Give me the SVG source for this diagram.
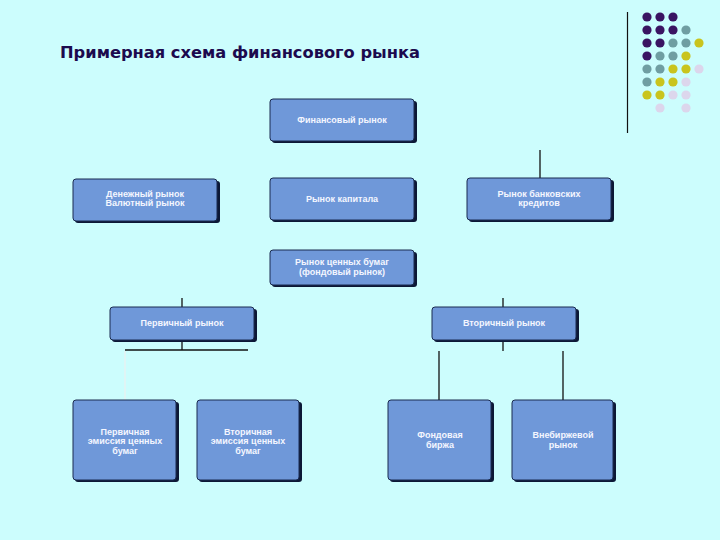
<svg xmlns="http://www.w3.org/2000/svg" width="720" height="540" viewBox="0 0 720 540">
<style>
.bg{fill:#ccfdfd}
.sh{fill:#0c1836}
.bx{fill:#6f98d9;stroke:#1a2a50;stroke-width:1}
.t{font-family:"Liberation Sans",Arial,sans-serif;font-size:9px;font-weight:bold;fill:#f4f6ff;text-anchor:middle}
.title{font-family:"DejaVu Sans",Verdana,sans-serif;font-size:16px;font-weight:bold;fill:#1c0a4e}
.c{stroke:#111;stroke-width:1.3;fill:none}
.cl{stroke:#e6f2f2;stroke-width:1.5;fill:none}
.P{fill:#3a1462}.T{fill:#6f9ea2}.Y{fill:#c9c41e}.L{fill:#dcd6ec}
</style>
<rect class="bg" x="0" y="0" width="720" height="540"/>
<text class="title" x="60" y="58" textLength="360" lengthAdjust="spacingAndGlyphs">Примерная схема финансового рынка</text>
<line x1="627.5" y1="12" x2="627.5" y2="133" stroke="#111" stroke-width="1.2"/>
<g id="dots">
<circle class="P" cx="647" cy="17" r="4.6"/><circle class="P" cx="660" cy="17" r="4.6"/><circle class="P" cx="673" cy="17" r="4.6"/>
<circle class="P" cx="647" cy="30" r="4.6"/><circle class="P" cx="660" cy="30" r="4.6"/><circle class="P" cx="673" cy="30" r="4.6"/><circle class="T" cx="686" cy="30" r="4.6"/>
<circle class="P" cx="647" cy="43" r="4.6"/><circle class="P" cx="660" cy="43" r="4.6"/><circle class="T" cx="673" cy="43" r="4.6"/><circle class="T" cx="686" cy="43" r="4.6"/><circle class="Y" cx="699" cy="43" r="4.6"/>
<circle class="P" cx="647" cy="56" r="4.6"/><circle class="T" cx="660" cy="56" r="4.6"/><circle class="T" cx="673" cy="56" r="4.6"/><circle class="Y" cx="686" cy="56" r="4.6"/>
<circle class="T" cx="647" cy="69" r="4.6"/><circle class="T" cx="660" cy="69" r="4.6"/><circle class="Y" cx="673" cy="69" r="4.6"/><circle class="Y" cx="686" cy="69" r="4.6"/><circle class="L" cx="699" cy="69" r="4.6"/>
<circle class="T" cx="647" cy="82" r="4.6"/><circle class="Y" cx="660" cy="82" r="4.6"/><circle class="Y" cx="673" cy="82" r="4.6"/><circle class="L" cx="686" cy="82" r="4.6"/>
<circle class="Y" cx="647" cy="95" r="4.6"/><circle class="Y" cx="660" cy="95" r="4.6"/><circle class="L" cx="673" cy="95" r="4.6"/><circle class="L" cx="686" cy="95" r="4.6"/>
<circle class="L" cx="660" cy="108" r="4.6"/><circle class="L" cx="686" cy="108" r="4.6"/>
</g>
<g id="connectors">
<line class="c" x1="540" y1="150" x2="540" y2="178"/>
<line class="c" x1="182" y1="298" x2="182" y2="307"/>
<line class="c" x1="182" y1="340" x2="182" y2="350"/>
<line class="c" x1="125" y1="350" x2="248" y2="350"/>
<line class="cl" x1="125" y1="351" x2="125" y2="400"/>
<line class="c" x1="503" y1="298" x2="503" y2="307"/>
<line class="c" x1="503" y1="340" x2="503" y2="351"/>
<line class="c" x1="439" y1="351" x2="439" y2="400"/>
<line class="c" x1="563" y1="351" x2="563" y2="400"/>
</g>
<g id="n_fin">
<rect class="sh" x="272" y="101" width="145" height="42" rx="3"/>
<rect class="bx" x="270" y="99" width="144" height="42" rx="3"/>
<text class="t" x="342" y="123">Финансовый рынок</text>
</g>
<g id="n_money">
<rect class="sh" x="75" y="181" width="145" height="42" rx="3"/>
<rect class="bx" x="73" y="179" width="144" height="42" rx="3"/>
<text class="t" x="145" y="197">Денежный рынок</text>
<text class="t" x="145" y="206">Валютный рынок</text>
</g>
<g id="n_capital">
<rect class="sh" x="272" y="180" width="145" height="42" rx="3"/>
<rect class="bx" x="270" y="178" width="144" height="42" rx="3"/>
<text class="t" x="342" y="202">Рынок капитала</text>
</g>
<g id="n_bank">
<rect class="sh" x="469" y="180" width="145" height="42" rx="3"/>
<rect class="bx" x="467" y="178" width="144" height="42" rx="3"/>
<text class="t" x="539" y="197">Рынок банковских</text>
<text class="t" x="539" y="206">кредитов</text>
</g>
<g id="n_securities">
<rect class="sh" x="272" y="252" width="145" height="35" rx="3"/>
<rect class="bx" x="270" y="250" width="144" height="35" rx="3"/>
<text class="t" x="342" y="265">Рынок ценных бумаг</text>
<text class="t" x="342" y="275">(фондовый рынок)</text>
</g>
<g id="n_primary">
<rect class="sh" x="112" y="309" width="145" height="33" rx="3"/>
<rect class="bx" x="110" y="307" width="144" height="33" rx="3"/>
<text class="t" x="182" y="326">Первичный рынок</text>
</g>
<g id="n_secondary">
<rect class="sh" x="434" y="309" width="145" height="33" rx="3"/>
<rect class="bx" x="432" y="307" width="144" height="33" rx="3"/>
<text class="t" x="504" y="326">Вторичный рынок</text>
</g>
<g id="n_prim_em">
<rect class="sh" x="75" y="402" width="104" height="80" rx="3"/>
<rect class="bx" x="73" y="400" width="103" height="80" rx="3"/>
<text class="t" x="125" y="435">Первичная</text>
<text class="t" x="125" y="444">эмиссия ценных</text>
<text class="t" x="125" y="454">бумаг</text>
</g>
<g id="n_sec_em">
<rect class="sh" x="199" y="402" width="103" height="80" rx="3"/>
<rect class="bx" x="197" y="400" width="102" height="80" rx="3"/>
<text class="t" x="248" y="435">Вторичная</text>
<text class="t" x="248" y="444">эмиссия ценных</text>
<text class="t" x="248" y="454">бумаг</text>
</g>
<g id="n_exchange">
<rect class="sh" x="390" y="402" width="104" height="80" rx="3"/>
<rect class="bx" x="388" y="400" width="103" height="80" rx="3"/>
<text class="t" x="440" y="438">Фондовая</text>
<text class="t" x="440" y="448">биржа</text>
</g>
<g id="n_otc">
<rect class="sh" x="514" y="402" width="102" height="80" rx="3"/>
<rect class="bx" x="512" y="400" width="101" height="80" rx="3"/>
<text class="t" x="563" y="438">Внебиржевой</text>
<text class="t" x="563" y="448">рынок</text>
</g>
</svg>
